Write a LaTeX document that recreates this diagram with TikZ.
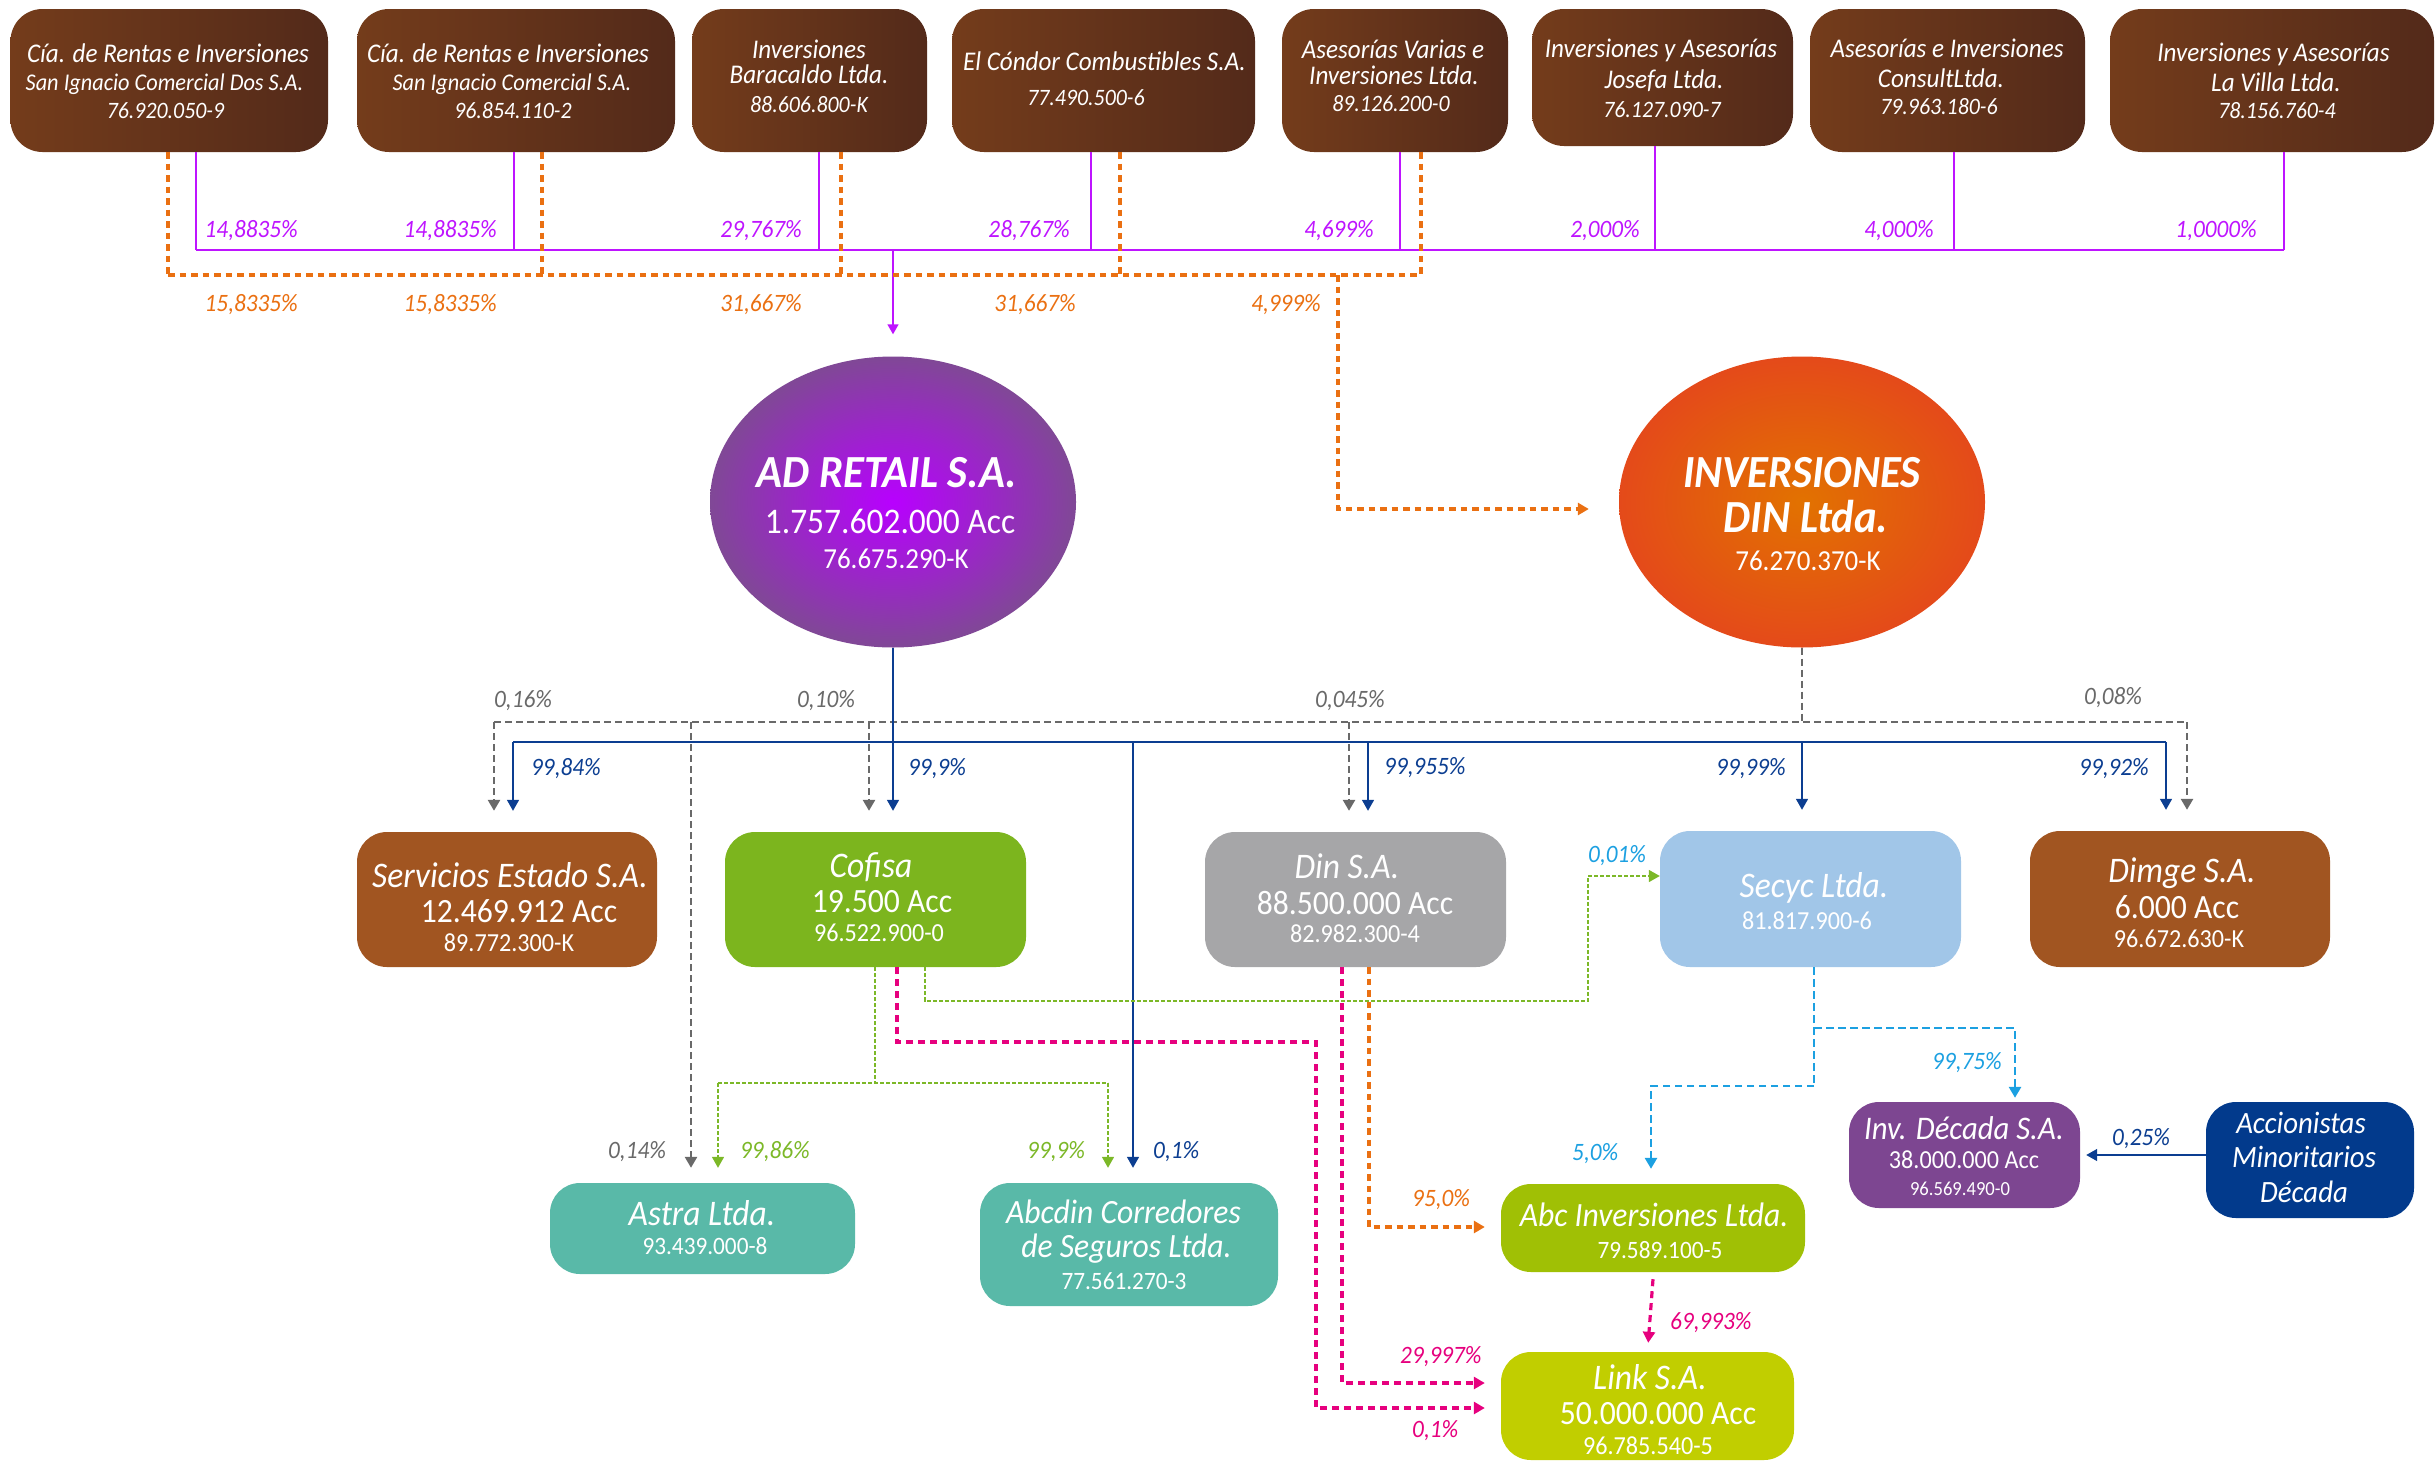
\documentclass[tikz,border=0pt]{standalone}
\usepackage{fontspec}
\setmainfont{Carlito}[FakeStretch=0.93]
\usetikzlibrary{arrows.meta,shapes.geometric}
\definecolor{brL}{RGB}{116,60,27}
\definecolor{brR}{RGB}{83,42,26}
\definecolor{purp}{RGB}{190,20,255}
\definecolor{orng}{RGB}{234,112,18}
\definecolor{grayl}{RGB}{105,105,105}
\definecolor{navy}{RGB}{12,62,145}
\definecolor{rust}{RGB}{161,85,33}
\definecolor{cofg}{RGB}{124,181,30}
\definecolor{dingray}{RGB}{166,166,168}
\definecolor{secb}{RGB}{161,198,232}
\definecolor{tealb}{RGB}{89,185,168}
\definecolor{abcg}{RGB}{160,192,5}
\definecolor{linkg}{RGB}{193,206,0}
\definecolor{decp}{RGB}{125,70,145}
\definecolor{accb}{RGB}{2,58,140}
\definecolor{cyanl}{RGB}{28,160,225}
\definecolor{pinkl}{RGB}{230,0,126}
\definecolor{greenl}{RGB}{124,184,40}
\definecolor{adIn}{RGB}{184,0,255}
\definecolor{adOut}{RGB}{128,72,150}
\definecolor{dnIn}{RGB}{226,114,0}
\definecolor{dnOut}{RGB}{228,74,26}
\newcommand\fs[1]{\fontsize{#1}{#1}\selectfont}
\begin{document}
\begin{tikzpicture}[x=1pt,y=-1pt,
  topbox/.style={rectangle, rounded corners=32pt, left color=brL, right color=brR, draw=none, inner sep=0pt},
  cbox/.style={rectangle, rounded corners=30pt, draw=none, inner sep=0pt},
  wt/.style={anchor=base, inner sep=0pt, text=white},
  lblE/.style={anchor=base east, inner sep=0pt, font=\itshape\fs{25}},
  lblW/.style={anchor=base west, inner sep=0pt, font=\itshape\fs{25}},
  arr/.style={-{Triangle[length=11pt,width=12pt]}},
  pl/.style={draw=purp, line width=1.5pt},
  od/.style={draw=orng, line width=3.2pt, dash pattern=on 6.5pt off 5pt},
  gd/.style={draw=grayl, line width=2.6pt, dash pattern=on 7pt off 4pt},
  bl/.style={draw=navy, line width=1.5pt},
  gdot/.style={draw=greenl, line width=1.5pt, dash pattern=on 4pt off 2pt},
  pd/.style={draw=pinkl, line width=3.2pt, dash pattern=on 7pt off 5pt},
  cd/.style={draw=cyanl, line width=2.8pt, dash pattern=on 7.5pt off 4.5pt}]
\useasboundingbox (0,0) rectangle (2436,1462);

% ---------- top boxes
\node[topbox, minimum width=317.5pt, minimum height=143pt] (t1) at (169.25,80.5) {};
\node[topbox, minimum width=318pt, minimum height=143pt] (t2) at (516,80.5) {};
\node[topbox, minimum width=235pt, minimum height=143pt] (t3) at (809.5,80.5) {};
\node[topbox, minimum width=303pt, minimum height=143pt] (t4) at (1103.5,80.5) {};
\node[topbox, minimum width=226pt, minimum height=143pt] (t5) at (1395,80.5) {};
\node[topbox, minimum width=261pt, minimum height=137pt] (t6) at (1662.5,77.5) {};
\node[topbox, minimum width=275pt, minimum height=143pt] (t7) at (1947.5,80.5) {};
\node[topbox, minimum width=324pt, minimum height=143pt] (t8) at (2272,80.5) {};

\node[wt, font=\itshape\fs{27}] (t1a) at (168,62) {Cía. de Rentas e Inversiones};
\node[wt, font=\itshape\fs{24}] (t1b) at (164.5,90) {San Ignacio Comercial Dos S.A.};
\node[wt, font=\itshape\fs{23.5}] (t1c) at (165.5,118) {76.920.050-9};
\node[wt, font=\itshape\fs{27}] (t2a) at (508,62) {Cía. de Rentas e Inversiones};
\node[wt, font=\itshape\fs{24}] (t2b) at (512,90) {San Ignacio Comercial S.A.};
\node[wt, font=\itshape\fs{23.5}] (t2c) at (513,118) {96.854.110-2};
\node[wt, font=\itshape\fs{27}] (t3a) at (809,58) {Inversiones};
\node[wt, font=\itshape\fs{27}] (t3b) at (809,83) {Baracaldo Ltda.};
\node[wt, font=\itshape\fs{23.5}] (t3c) at (809,112) {88.606.800-K};
\node[wt, font=\itshape\fs{27}] (t4a) at (1104.5,70) {El Cóndor Combustibles S.A.};
\node[wt, font=\itshape\fs{23.5}] (t4b) at (1086,105) {77.490.500-6};
\node[wt, font=\itshape\fs{27}] (t5a) at (1393,58) {Asesorías Varias e};
\node[wt, font=\itshape\fs{27}] (t5b) at (1394,84) {Inversiones Ltda.};
\node[wt, font=\itshape\fs{23.5}] (t5c) at (1391,111) {89.126.200-0};
\node[wt, font=\itshape\fs{27}] (t6a) at (1661,57) {Inversiones y Asesorías};
\node[wt, font=\itshape\fs{27}] (t6b) at (1664,88) {Josefa Ltda.};
\node[wt, font=\itshape\fs{23.5}] (t6c) at (1662,117) {76.127.090-7};
\node[wt, font=\itshape\fs{27}] (t7a) at (1947,57) {Asesorías e Inversiones};
\node[wt, font=\itshape\fs{27}] (t7b) at (1941,87) {ConsultLtda.};
\node[wt, font=\itshape\fs{23.5}] (t7c) at (1939,114) {79.963.180-6};
\node[wt, font=\itshape\fs{27}] (t8a) at (2273.5,61) {Inversiones y Asesorías};
\node[wt, font=\itshape\fs{27}] (t8b) at (2276,91) {La Villa Ltda.};
\node[wt, font=\itshape\fs{23.5}] (t8c) at (2277,118) {78.156.760-4};

% ---------- ellipses
\node[ellipse, minimum width=366pt, minimum height=291pt, inner sep=0pt, shading=radial, inner color=adIn, outer color=adOut] (adr) at (893,502) {};
\node[ellipse, minimum width=366pt, minimum height=291pt, inner sep=0pt, shading=radial, inner color=dnIn, outer color=dnOut] (dnl) at (1802,502) {};
\node[wt, font=\bfseries\itshape\fs{46}] (adra) at (887,487) {AD RETAIL S.A.};
\node[wt, font=\fs{36}] (adrb) at (890,533) {1.757.602.000 Acc};
\node[wt, font=\fs{29}] (adrc) at (896,568) {76.675.290-K};
\node[wt, font=\bfseries\itshape\fs{46}] (dnla) at (1802,487) {INVERSIONES};
\node[wt, font=\bfseries\itshape\fs{46}] (dnlb) at (1806,532) {DIN Ltda.};
\node[wt, font=\fs{29}] (dnlc) at (1808,570) {76.270.370-K};

% ---------- child boxes
\node[cbox, fill=rust, minimum width=300pt, minimum height=135pt] (srv) at (507,899.5) {};
\node[cbox, fill=cofg, minimum width=301pt, minimum height=135pt] (cof) at (875.5,899.5) {};
\node[cbox, fill=dingray, minimum width=301pt, minimum height=135pt] (din) at (1355.5,899.5) {};
\node[cbox, fill=secb, minimum width=301pt, minimum height=136pt] (sec) at (1810.5,899) {};
\node[cbox, fill=rust, minimum width=300pt, minimum height=136pt] (dim) at (2180,899) {};
\node[cbox, fill=tealb, minimum width=305pt, minimum height=91pt] (ast) at (702.5,1228.5) {};
\node[cbox, fill=tealb, minimum width=298pt, minimum height=123pt] (abd) at (1129,1244.5) {};
\node[cbox, fill=abcg, minimum width=304pt, minimum height=88pt] (abc) at (1653,1228) {};
\node[cbox, fill=linkg, minimum width=293pt, minimum height=108pt] (lnk) at (1647.5,1406) {};
\node[cbox, fill=decp, minimum width=231pt, minimum height=106pt] (dec) at (1964.5,1155) {};
\node[cbox, fill=accb, minimum width=208pt, minimum height=116pt] (acc) at (2310,1160) {};

\node[wt, font=\itshape\fs{36}] (srva) at (510,887) {Servicios Estado S.A.};
\node[wt, font=\fs{34}] (srvb) at (519,922) {12.469.912 Acc};
\node[wt, font=\fs{26}] (srvc) at (509,951) {89.772.300-K};
\node[wt, font=\itshape\fs{36}] (cofa) at (871,877) {Cofisa};
\node[wt, font=\fs{34}] (cofb) at (882,912) {19.500 Acc};
\node[wt, font=\fs{26}] (cofc) at (879,941) {96.522.900-0};
\node[wt, font=\itshape\fs{36}] (dina) at (1347,878) {Din S.A.};
\node[wt, font=\fs{34}] (dinb) at (1355,914) {88.500.000 Acc};
\node[wt, font=\fs{26}] (dinc) at (1355,942) {82.982.300-4};
\node[wt, font=\itshape\fs{36}] (seca) at (1814,897) {Secyc Ltda.};
\node[wt, font=\fs{26}] (secb) at (1807,929) {81.817.900-6};
\node[wt, font=\itshape\fs{36}] (dima) at (2182,882) {Dimge S.A.};
\node[wt, font=\fs{34}] (dimb) at (2177,918) {6.000 Acc};
\node[wt, font=\fs{26}] (dimc) at (2179,947) {96.672.630-K};
\node[wt, font=\itshape\fs{36}] (asta) at (702,1225) {Astra Ltda.};
\node[wt, font=\fs{25}] (astb) at (705,1254) {93.439.000-8};
\node[wt, font=\itshape\fs{34}] (abda) at (1123.5,1223) {Abcdin Corredores};
\node[wt, font=\itshape\fs{34}] (abdb) at (1126.5,1257) {de Seguros Ltda.};
\node[wt, font=\fs{25}] (abdc) at (1124,1289) {77.561.270-3};
\node[wt, font=\itshape\fs{34}] (abca) at (1654,1226) {Abc Inversiones Ltda.};
\node[wt, font=\fs{25}] (abcb) at (1660,1258) {79.589.100-5};
\node[wt, font=\itshape\fs{36}] (lnka) at (1650,1389) {Link S.A.};
\node[wt, font=\fs{34}] (lnkb) at (1658,1424) {50.000.000 Acc};
\node[wt, font=\fs{26}] (lnkc) at (1648,1454) {96.785.540-5};
\node[wt, font=\itshape\fs{33}] (deca) at (1964,1139) {Inv. Década S.A.};
\node[wt, font=\fs{26}] (decb) at (1964,1168) {38.000.000 Acc};
\node[wt, font=\fs{20}] (decc) at (1960,1195) {96.569.490-0};
\node[wt, font=\itshape\fs{31}] (acca) at (2301,1133) {Accionistas};
\node[wt, font=\itshape\fs{31}] (accb) at (2304,1167) {Minoritarios};
\node[wt, font=\itshape\fs{31}] (accc) at (2304,1202) {Década};

% ---------- purple (solid) ownership of AD Retail
\foreach \n/\x in {t1/196,t2/514,t3/819,t4/1091,t5/1400,t6/1655,t7/1954,t8/2284}{
  \coordinate (P\n) at (\x,250);
  \draw[pl] (\n.south -| P\n) -- (P\n);
}
\draw[pl] (Pt1) -- (Pt8);
\draw[pl, -{Triangle[length=10pt,width=11pt]}] (adr.north |- Pt1) -- ([yshift=22pt]adr.north);

% ---------- orange (dashed) ownership of Inversiones DIN
\foreach \n/\x in {t1/168,t2/542,t3/841,t4/1120,t5/1421}{
  \coordinate (O\n) at (\x,275);
  \draw[od] (\n.south -| O\n) -- (O\n);
}
\draw[od] (Ot1) -- (Ot5);
\coordinate (Oj) at (1338,275);
\draw[od, arr] (Oj) |- ([xshift=-30pt,yshift=-7pt]dnl.west);

% ---------- gray (dashed) from Inversiones DIN
\coordinate (Ga) at (494,722);
\coordinate (Gb) at (869,722);
\coordinate (Gc) at (1349,722);
\coordinate (Gd) at (2187,722);
\coordinate (Ge) at (691,722);
\draw[gd] (dnl.south) -- (dnl.south |- Ga);
\draw[gd] (Ga) -- (Gd);
\draw[gd, arr, shorten >=21pt] (Ga) -- (Ga |- srv.north);
\draw[gd, arr, shorten >=21pt] (Gb) -- (Gb |- cof.north);
\draw[gd, arr, shorten >=21pt] (Gc) -- (Gc |- din.north);
\draw[gd, arr, shorten >=21pt] (Gd) -- (Gd |- dim.north);
\draw[gd, arr, shorten >=15pt] (Ge) -- (Ge |- ast.north);

% ---------- blue (solid) from AD Retail
\coordinate (Ba) at (513,742);
\coordinate (Bc) at (1368,742);
\coordinate (Bd) at (1802,742);
\coordinate (Be) at (2166,742);
\coordinate (Bf) at (1133,742);
\draw[bl] (Ba) -- (Be);
\draw[bl, arr, shorten >=21pt] (adr.south) -- (adr.south |- cof.north);
\draw[bl, arr, shorten >=21pt] (Ba) -- (Ba |- srv.north);
\draw[bl, arr, shorten >=21pt] (Bc) -- (Bc |- din.north);
\draw[bl, arr, shorten >=21pt] (Bd) -- (Bd |- sec.north);
\draw[bl, arr, shorten >=21pt] (Be) -- (Be |- dim.north);
\draw[bl, arr, shorten >=15pt] (Bf) -- (Bf |- abd.north);
\draw[bl, arr, shorten >=6pt] (acc.west |- dec.east) -- (dec.east);

% ---------- green (dotted) from Cofisa
\coordinate (Ca) at (875,1083);
\coordinate (Cl) at (718,1083);
\coordinate (Cr) at (1108,1083);
\draw[gdot] (cof.south -| Ca) -- (Ca);
\draw[gdot] (Cl) -- (Cr);
\draw[gdot, arr, shorten >=15pt] (Cl) -- (Cl |- ast.north);
\draw[gdot, arr, shorten >=15pt] (Cr) -- (Cr |- abd.north);
\coordinate (Q1) at (925,1001);
\coordinate (Q2) at (1588,1001);
\coordinate (Q3) at (1588,876);
\draw[gdot, arr] (cof.south -| Q1) -- (Q1) -- (Q2) -- (Q3) -- (Q3 -| sec.west);

% ---------- pink (dashed)
\coordinate (K1) at (897,1042);
\coordinate (K2) at (1316,1042);
\coordinate (K3) at (1316,1408);
\draw[pd, arr, shorten >=16pt] (cof.south -| K1) -- (K1) -- (K2) -- (K3) -- (K3 -| lnk.west);
\coordinate (K4) at (1342,1383);
\draw[pd, arr, shorten >=16pt] (din.south -| K4) -- (K4) -- (K4 -| lnk.west);
\draw[pd, arr, shorten >=9pt] ([yshift=-7pt]abc.south) -- (lnk.north);

% ---------- orange Din S.A. -> Abc Inversiones
\coordinate (R1) at (1369,1227);
\draw[od, arr, shorten >=16pt] (din.south -| R1) -- (R1) -- (R1 -| abc.west);

% ---------- cyan (dashed) from Secyc
\coordinate (S1) at (1814,1028);
\coordinate (S2) at (2015,1028);
\coordinate (S3) at (1814,1086);
\coordinate (S4) at (1651,1086);
\draw[cd] (sec.south -| S1) -- (S3);
\draw[cd, arr, shorten >=4pt] (S1) -- (S2) -- (S2 |- dec.north);
\draw[cd, arr, shorten >=15pt] (S3) -- (S4) -- (S4 |- abc.north);

% ---------- percentage labels
\node[lblE, text=purp] (lp1) at (298,237) {14,8835\%};
\node[lblE, text=purp] (lp2) at (497,237) {14,8835\%};
\node[lblE, text=purp] (lp3) at (802,237) {29,767\%};
\node[lblE, text=purp] (lp4) at (1070,237) {28,767\%};
\node[lblE, text=purp] (lp5) at (1374,237) {4,699\%};
\node[lblE, text=purp] (lp6) at (1640,237) {2,000\%};
\node[lblE, text=purp] (lp7) at (1934,237) {4,000\%};
\node[lblE, text=purp] (lp8) at (2257,237) {1,0000\%};
\node[lblE, text=orng] (lo1) at (298,311) {15,8335\%};
\node[lblE, text=orng] (lo2) at (497,311) {15,8335\%};
\node[lblE, text=orng] (lo3) at (802,311) {31,667\%};
\node[lblE, text=orng] (lo4) at (1076,311) {31,667\%};
\node[lblE, text=orng] (lo5) at (1321,311) {4,999\%};

\node[lblW, text=grayl] (lg1) at (494,707) {0,16\%};
\node[lblW, text=grayl] (lg2) at (797,707) {0,10\%};
\node[lblW, text=grayl] (lg3) at (1315,707) {0,045\%};
\node[lblW, text=grayl] (lg4) at (2084,704) {0,08\%};
\node[lblW, text=navy] (lb1) at (531,775) {99,84\%};
\node[lblW, text=navy] (lb2) at (908,775) {99,9\%};
\node[lblW, text=navy] (lb3) at (1384,774) {99,955\%};
\node[lblW, text=navy] (lb4) at (1716,775) {99,99\%};
\node[lblW, text=navy] (lb5) at (2079,775) {99,92\%};
\node[lblW, text=grayl] (lg5) at (608,1158) {0,14\%};
\node[lblW, text=greenl] (lc1) at (740,1158) {99,86\%};
\node[lblW, text=greenl] (lc2) at (1027,1158) {99,9\%};
\node[lblW, text=navy] (lb6) at (1153,1158) {0,1\%};
\node[lblW, text=cyanl] (ls1) at (1588,862) {0,01\%};
\node[lblW, text=cyanl] (ls2) at (1932,1069) {99,75\%};
\node[lblW, text=cyanl] (ls3) at (1572,1160) {5,0\%};
\node[lblW, text=navy] (lb7) at (2112,1145) {0,25\%};
\node[lblW, text=orng] (lo6) at (1412,1206) {95,0\%};
\node[lblW, text=pinkl] (lk1) at (1670,1329) {69,993\%};
\node[lblW, text=pinkl] (lk2) at (1400,1363) {29,997\%};
\node[lblW, text=pinkl] (lk3) at (1412,1437) {0,1\%};
\end{tikzpicture}
\end{document}
